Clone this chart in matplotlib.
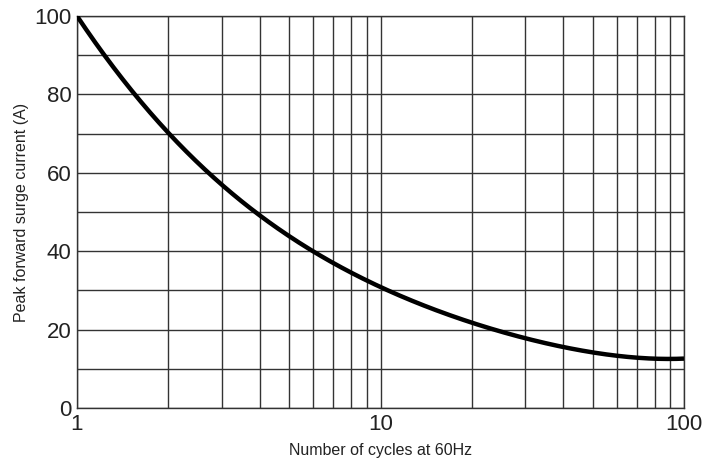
import numpy as np
import matplotlib.pyplot as plt
from matplotlib.ticker import FixedLocator, NullFormatter

plt.rcParams['font.family'] = ['Liberation Sans', 'DejaVu Sans']

# curve
cycles = [1, 1.5, 2, 3, 4, 5, 6, 8, 10, 15, 20, 30, 40, 50, 60, 80, 100]
current = [100, 82, 69.8, 56.5, 49.5, 43.8, 40.0, 34.6, 30.8, 25.3, 21.8, 17.6, 15.5, 14.1, 13.4, 12.9, 12.6]

xmajor = [1, 10, 100]
xgrid = [2, 3, 4, 5, 6, 7, 8, 9, 20, 30, 40, 50, 60, 70, 80, 90]
ymajor = [0, 20, 40, 60, 80, 100]
ygrid = [10, 30, 50, 70, 90]

# smooth least-squares curve through the read points (log x)
w = np.ones(len(cycles))
w[0] = w[-1] = 10
coef = np.polyfit(np.log10(cycles), current, 5, w=w)
xs = np.linspace(0, 2, 400)
ys = np.polyval(coef, xs)

fig = plt.figure(figsize=(7.2, 4.62), dpi=100)
ax = fig.add_axes([77 / 720, 1 - 408 / 462, 607 / 720, 392 / 462])
ax.set_xscale('log')
ax.set_xlim(1, 100)
ax.set_ylim(0, 100)

for v in xgrid + xmajor:
    ax.axvline(v, color='#333333', lw=1.0, zorder=1)
for v in ygrid + ymajor:
    ax.axhline(v, color='#333333', lw=1.0, zorder=1)

ax.plot(10 ** xs, ys, color='black', lw=3.2, zorder=3, solid_capstyle='butt')

ax.xaxis.set_major_locator(FixedLocator(xmajor))
ax.set_xticklabels([str(v) for v in xmajor])
ax.xaxis.set_minor_formatter(NullFormatter())
ax.xaxis.set_minor_locator(FixedLocator([]))
ax.set_yticks(ymajor)
ax.tick_params(axis='both', length=0, labelsize=16, pad=4, colors='#222222')
for s in ax.spines.values():
    s.set_color('#333333')
    s.set_linewidth(1.0)

ax.set_xlabel('Number of cycles at 60Hz', fontsize=11.5, color='#222222', labelpad=6)
ax.set_ylabel('Peak forward surge current (A)', fontsize=11.5, color='#222222', labelpad=4)

fig.savefig('out.png', dpi=100)
